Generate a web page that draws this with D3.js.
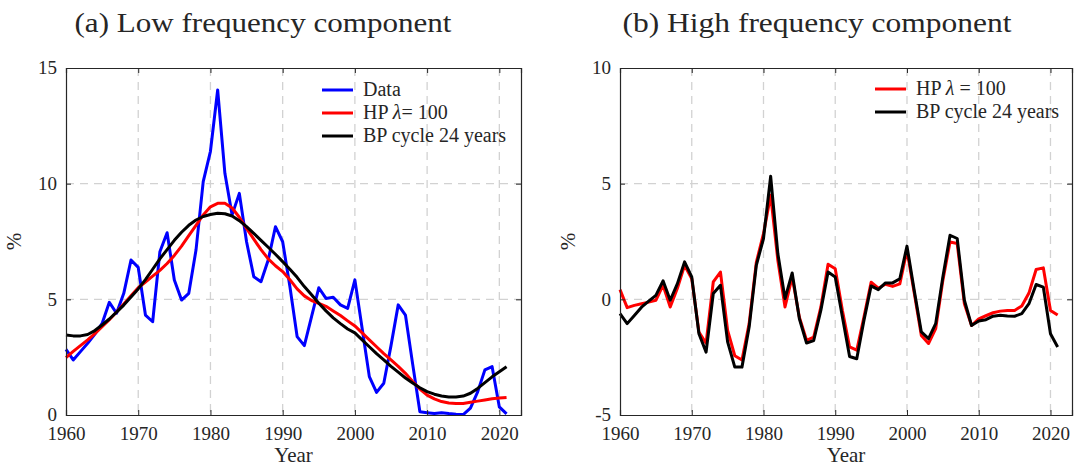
<!DOCTYPE html>
<html><head><meta charset="utf-8">
<script src="https://cdn.jsdelivr.net/npm/d3@7"></script>
<style>
body{margin:0;background:#fff}
text{font-family:"Liberation Serif","DejaVu Serif",serif;fill:#262626}
</style>
</head><body>
<svg id="c" width="1074" height="468"></svg>
<script>
const years = d3.range(1960, 2022);

const lowData = [2.84,2.38,2.74,3.1,3.5,3.96,4.87,4.4,5.26,6.7,6.38,4.32,4.03,7.06,7.88,5.84,4.97,5.26,7.13,10.09,
  11.4,14.05,10.45,8.65,9.58,7.49,5.98,5.76,6.7,8.14,7.49,5.55,3.39,3.0,4.25,5.5,5.04,5.09,4.76,4.61,
  5.84,3.75,1.66,0.98,1.37,3.0,4.76,4.32,2.2,0.14,0.1,0.06,0.1,0.06,0.03,0.02,0.3,1.0,1.95,2.09,0.35,0.05];
const lowHP = [2.48,2.75,3.0,3.25,3.52,3.82,4.12,4.45,4.8,5.15,5.5,5.75,6.0,6.25,6.55,6.9,7.3,7.75,8.2,8.65,
  9.0,9.15,9.15,8.95,8.55,8.07,7.6,7.15,6.75,6.45,6.2,5.85,5.45,5.15,4.95,4.83,4.7,4.5,4.3,4.07,
  3.85,3.55,3.25,2.95,2.65,2.38,2.1,1.8,1.45,1.12,0.86,0.7,0.58,0.52,0.5,0.5,0.55,0.6,0.65,0.7,0.73,0.76];
const lowBP = [3.46,3.42,3.42,3.48,3.65,3.89,4.15,4.45,4.75,5.1,5.45,5.85,6.3,6.75,7.15,7.55,7.9,8.2,8.43,8.58,
  8.67,8.72,8.7,8.6,8.4,8.14,7.85,7.55,7.25,6.95,6.63,6.3,5.95,5.55,5.2,4.83,4.5,4.2,3.95,3.72,
  3.55,3.25,2.95,2.65,2.38,2.1,1.85,1.6,1.38,1.18,1.01,0.9,0.82,0.78,0.78,0.82,0.94,1.15,1.4,1.65,1.87,2.09];
const highHP = [0.42,-0.36,-0.26,-0.19,-0.12,-0.04,0.61,-0.33,0.48,1.47,0.89,-1.41,-1.9,0.75,1.18,-1.34,-2.44,-2.62,-1.05,1.6,
  2.84,4.5,1.69,-0.33,0.97,-0.77,-1.77,-1.63,-0.33,1.52,1.32,-0.48,-2.06,-2.2,-0.77,0.74,0.48,0.65,0.56,0.67,
  2.12,0.3,-1.56,-1.91,-1.27,0.82,2.48,2.41,-0.19,-1.13,-0.84,-0.71,-0.58,-0.51,-0.48,-0.48,-0.29,0.27,1.29,1.36,-0.48,-0.68];
const highBP = [-0.62,-1.05,-0.7,-0.34,-0.08,0.17,0.8,-0.04,0.68,1.62,0.97,-1.49,-2.28,0.25,0.61,-1.84,-2.93,-2.93,-1.2,1.47,
  2.63,5.32,1.98,0.03,1.14,-0.84,-1.89,-1.78,-0.47,1.18,0.97,-0.76,-2.47,-2.57,-0.91,0.58,0.42,0.71,0.71,0.89,
  2.3,0.4,-1.41,-1.7,-1.05,0.97,2.77,2.63,-0.04,-1.13,-0.94,-0.88,-0.73,-0.69,-0.72,-0.73,-0.62,-0.19,0.64,0.53,-1.49,-2.06];

const xTicks = [1960,1970,1980,1990,2000,2010,2020];
const lowYTicks = [0,5,10,15];
const highYTicks = [-5,0,5,10];
const titles = ["(a) Low frequency component","(b) High frequency component"];
const xLabel = "Year", yLabel = "%";

const svg = d3.select("#c");
const yTop = 68, yBot = 415;

function panel(opt){
  const g = svg.append("g");
  const x = d3.scaleLinear().domain([1960,2023]).range([opt.x0,opt.x1]);
  const y = d3.scaleLinear().domain(opt.yDom).range([yBot,yTop]);
  // grid
  g.selectAll(".gx").data(xTicks.slice(1)).enter().append("line")
    .attr("x1",d=>x(d)).attr("x2",d=>x(d)).attr("y1",yTop).attr("y2",yBot)
    .attr("stroke","#d2d2d2").attr("stroke-width",1.3).attr("stroke-dasharray","8,6");
  g.selectAll(".gy").data(opt.yTicks.slice(1,-1)).enter().append("line")
    .attr("x1",opt.x0).attr("x2",opt.x1).attr("y1",d=>y(d)).attr("y2",d=>y(d))
    .attr("stroke","#d2d2d2").attr("stroke-width",1.3).attr("stroke-dasharray","8,6");
  // series
  const line = d3.line().x((d,i)=>x(years[i])).y(d=>y(d));
  opt.series.forEach(s=>{
    g.append("path").datum(s.v).attr("d",line).attr("fill","none")
      .attr("stroke",s.c).attr("stroke-width",3).attr("stroke-linejoin","round");
  });
  // axes
  const ax = g.append("g").attr("transform",`translate(0,${yBot})`)
    .call(d3.axisBottom(x).tickValues(xTicks).tickFormat(d3.format("d")).tickSize(-5).tickPadding(10));
  const axT = g.append("g").attr("transform",`translate(0,${yTop})`)
    .call(d3.axisTop(x).tickValues(xTicks).tickFormat("").tickSize(-5));
  const ay = g.append("g").attr("transform",`translate(${opt.x0},0)`)
    .call(d3.axisLeft(y).tickValues(opt.yTicks).tickFormat(d=>String(d)).tickSize(-5).tickPadding(9));
  const ayR = g.append("g").attr("transform",`translate(${opt.x1},0)`)
    .call(d3.axisRight(y).tickValues(opt.yTicks).tickFormat("").tickSize(-5));
  [ax,axT,ay,ayR].forEach(a=>{
    a.select(".domain").attr("stroke","#262626").attr("stroke-width",1.2);
    a.selectAll(".tick line").attr("stroke","#262626");
    a.selectAll("text").style("font-family",'"Liberation Serif",serif').style("font-size","19px").attr("fill","#262626");
  });
  ax.selectAll("text").attr("dy","0.8em");
  ay.selectAll("text").attr("dy","0.3em");
  // labels
  g.append("text").attr("x",(opt.x0+opt.x1)/2).attr("y",462).attr("text-anchor","middle")
    .style("font-size","21px").text(xLabel);
  g.append("text").attr("transform",`translate(${opt.x0-45},${(yTop+yBot)/2}) rotate(-90)`)
    .attr("text-anchor","middle").style("font-size","21px").text(yLabel);
  g.append("text").attr("x",opt.titleX).attr("y",32).attr("text-anchor","middle")
    .attr("textLength",opt.titleLen).attr("lengthAdjust","spacingAndGlyphs")
    .style("font-size","28px").text(opt.title);
  // legend
  opt.legend.forEach((l,i)=>{
    const yy = opt.legY + i*23;
    g.append("line").attr("x1",opt.legX).attr("x2",opt.legX+31).attr("y1",yy).attr("y2",yy)
      .attr("stroke",l.c).attr("stroke-width",3);
    const t = g.append("text").attr("x",opt.legX+41).attr("y",yy+6).style("font-size","20px");
    l.parts.forEach(p=>t.append("tspan").style("font-style",p.i?"italic":"normal").text(p.t));
  });
}

panel({x0:66,x1:521,yDom:[0,15],yTicks:lowYTicks,title:titles[0],titleX:263,titleLen:377,
  series:[{v:lowData,c:"#0000ff"},{v:lowHP,c:"#ff0000"},{v:lowBP,c:"#000000"}],
  legX:322,legY:90,
  legend:[{c:"#0000ff",parts:[{t:"Data"}]},
          {c:"#ff0000",parts:[{t:"HP "},{t:"λ",i:true},{t:"= 100"}]},
          {c:"#000000",parts:[{t:"BP cycle 24 years"}]}]});
panel({x0:620,x1:1072,yDom:[-5,10],yTicks:highYTicks,title:titles[1],titleX:817,titleLen:389,
  series:[{v:highHP,c:"#ff0000"},{v:highBP,c:"#000000"}],
  legX:875,legY:89,
  legend:[{c:"#ff0000",parts:[{t:"HP "},{t:"λ",i:true},{t:" = 100"}]},
          {c:"#000000",parts:[{t:"BP cycle 24 years"}]}]});
</script>
</body></html>
